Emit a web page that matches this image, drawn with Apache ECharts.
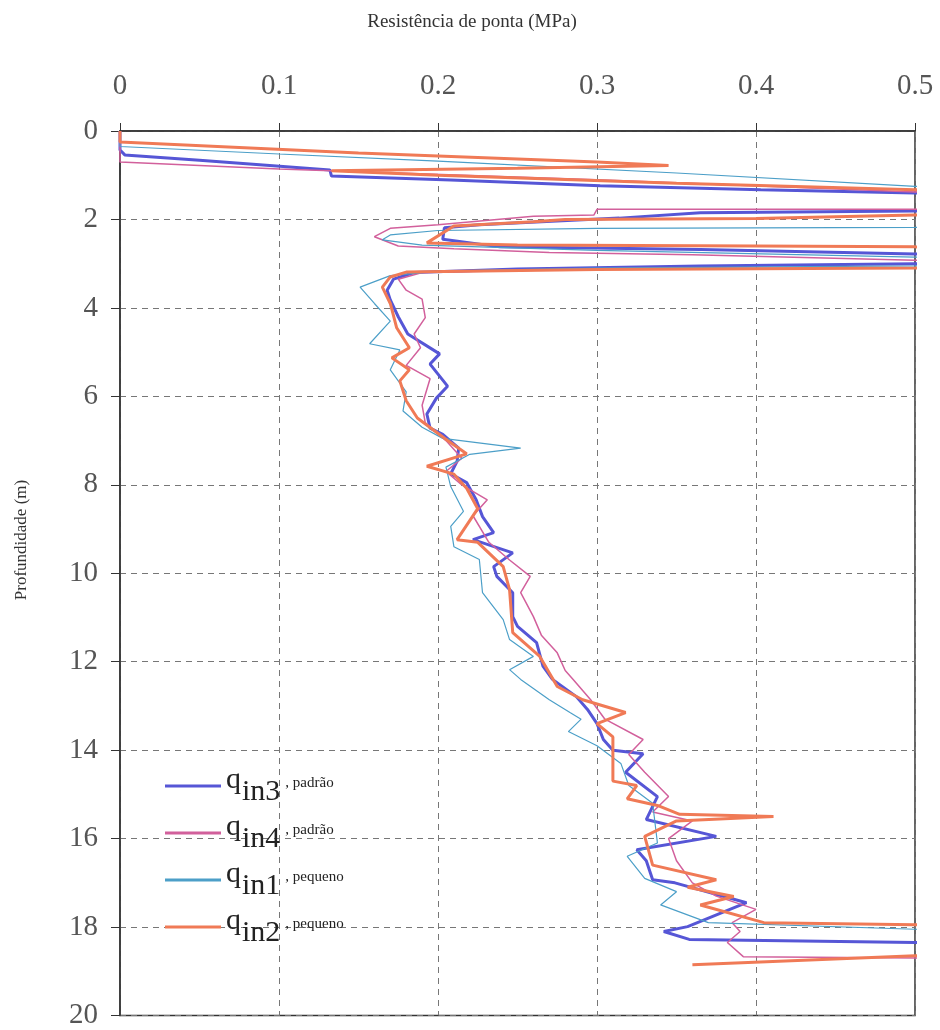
<!DOCTYPE html>
<html>
<head>
<meta charset="utf-8">
<script src="https://cdn.jsdelivr.net/npm/echarts@6/dist/echarts.min.js"></script>
<style>
  html, body { margin: 0; padding: 0; background: #fff; }
  #chart { width: 940px; height: 1030px; }
</style>
</head>
<body>
<div id="chart"></div>
<script>
  // [resistencia (MPa), profundidade (m)]
  const qin3 = [[0,0],[0,0.43],[0.003,0.54],[0.05,0.66],[0.132,0.88],[0.133,1.02],[0.208,1.11],[0.302,1.24],[0.403,1.33],[0.5,1.4],[0.56,1.45],
    [0.56,1.78],[0.5,1.81],[0.365,1.85],[0.314,1.97],[0.226,2.12],[0.204,2.19],[0.203,2.45],[0.239,2.62],[0.365,2.68],[0.5,2.78],[0.56,2.8],
    [0.56,2.98],[0.5,3.0],[0.365,3.05],[0.25,3.12],[0.185,3.2],[0.172,3.35],[0.168,3.6],[0.17,3.82],[0.175,4.2],[0.181,4.59],[0.201,5.04],
    [0.195,5.27],[0.206,5.77],[0.199,6.04],[0.193,6.4],[0.195,6.72],[0.203,6.86],[0.213,7.17],[0.212,7.47],[0.208,7.75],[0.218,7.95],
    [0.224,8.34],[0.228,8.72],[0.235,9.08],[0.222,9.24],[0.247,9.54],[0.235,9.85],[0.237,10.07],[0.247,10.44],[0.247,10.98],[0.25,11.2],
    [0.262,11.57],[0.266,12.1],[0.272,12.4],[0.287,12.79],[0.294,13.08],[0.3,13.4],[0.304,13.76],[0.31,14.0],[0.329,14.08],[0.318,14.5],
    [0.338,15.05],[0.331,15.57],[0.375,15.95],[0.325,16.25],[0.331,16.5],[0.335,16.93],[0.349,17.0],[0.394,17.45],[0.357,17.99],
    [0.342,18.1],[0.358,18.28],[0.5,18.35],[0.56,18.36]];
  const qin4 = [[0,0],[0,0.7],[0.1,0.86],[0.3,1.1],[0.5,1.38],[0.56,1.45],
    [0.56,1.75],[0.5,1.77],[0.3,1.77],[0.298,1.9],[0.26,1.93],[0.2,2.12],[0.17,2.2],[0.16,2.39],[0.175,2.6],[0.21,2.66],[0.27,2.75],
    [0.36,2.8],[0.5,2.92],[0.56,2.95],
    [0.56,3.08],[0.5,3.1],[0.3,3.12],[0.19,3.2],[0.175,3.35],[0.18,3.6],[0.19,3.8],[0.192,4.22],[0.185,4.59],[0.189,4.9],[0.18,5.3],
    [0.195,5.6],[0.19,6.2],[0.192,6.6],[0.205,7.0],[0.215,7.4],[0.205,7.7],[0.215,8.0],[0.231,8.34],[0.222,8.7],[0.232,9.3],[0.245,9.7],
    [0.258,10.07],[0.252,10.44],[0.26,10.98],[0.265,11.4],[0.275,11.8],[0.28,12.2],[0.285,12.4],[0.296,12.86],[0.305,13.3],[0.329,13.76],
    [0.32,14.1],[0.33,14.5],[0.345,15.05],[0.335,15.4],[0.36,15.6],[0.345,16.0],[0.35,16.5],[0.36,17.0],[0.375,17.3],[0.4,17.6],
    [0.385,17.9],[0.39,18.1],[0.382,18.35],[0.392,18.67],[0.5,18.7],[0.56,18.7]];
  const qin1 = [[0,0],[0,0.35],[0.1,0.52],[0.2,0.68],[0.35,0.95],[0.5,1.25],[0.56,1.3],
    [0.56,2.15],[0.5,2.18],[0.3,2.2],[0.2,2.25],[0.17,2.35],[0.165,2.46],[0.19,2.58],[0.3,2.7],[0.5,2.85],[0.56,2.88],
    [0.56,3.02],[0.5,3.05],[0.3,3.1],[0.2,3.17],[0.17,3.27],[0.151,3.53],[0.16,3.9],[0.17,4.3],[0.157,4.81],[0.176,4.95],[0.17,5.4],
    [0.18,5.9],[0.178,6.33],[0.19,6.7],[0.203,6.95],[0.252,7.17],[0.22,7.31],[0.205,7.6],[0.208,8.04],[0.216,8.6],[0.208,8.94],
    [0.21,9.4],[0.226,9.69],[0.228,10.44],[0.241,11.05],[0.245,11.5],[0.26,11.88],[0.245,12.18],[0.252,12.4],[0.27,12.86],
    [0.283,13.15],[0.29,13.3],[0.282,13.58],[0.3,13.9],[0.315,14.3],[0.32,14.8],[0.335,15.2],[0.338,16.1],[0.319,16.4],[0.33,16.9],
    [0.35,17.2],[0.34,17.5],[0.37,17.9],[0.5,18.05],[0.56,18.05]];
  const qin2 = [[0,0],[0,0.25],[0.15,0.5],[0.3,0.7],[0.345,0.78],[0.25,0.84],[0.133,0.9],[0.2,1.0],[0.35,1.18],[0.5,1.33],[0.56,1.38],
    [0.56,1.85],[0.5,1.9],[0.4,1.98],[0.28,2.0],[0.26,2.05],[0.21,2.15],[0.193,2.53],[0.25,2.58],[0.4,2.6],[0.5,2.62],[0.56,2.63],
    [0.56,3.08],[0.5,3.1],[0.3,3.13],[0.18,3.19],[0.17,3.3],[0.165,3.53],[0.17,3.9],[0.174,4.45],[0.182,4.9],[0.171,5.13],[0.182,5.4],
    [0.176,5.65],[0.18,6.1],[0.187,6.49],[0.206,7.0],[0.218,7.3],[0.193,7.58],[0.21,7.76],[0.218,8.08],[0.225,8.54],[0.212,9.24],
    [0.225,9.3],[0.241,9.85],[0.245,10.37],[0.247,11.34],[0.264,11.88],[0.275,12.56],[0.291,12.86],[0.318,13.15],[0.3,13.4],[0.31,13.7],
    [0.31,14.7],[0.325,14.8],[0.319,15.1],[0.338,15.25],[0.352,15.45],[0.411,15.5],[0.35,15.6],[0.33,15.95],[0.335,16.6],[0.375,16.93],
    [0.357,17.1],[0.386,17.31],[0.365,17.5],[0.405,17.9],[0.5,17.95],[0.56,17.96],[0.56,18.6],[0.5,18.65],[0.36,18.85]];

  const seriesSubs = ['in3', 'in4', 'in1', 'in2'];
  const seriesTags = ['padrão', 'padrão', 'pequeno', 'pequeno'];
  const seriesData = [qin3, qin4, qin1, qin2];
  const seriesColors = ['#5656d6', '#d2609c', '#4c9fc8', '#f07a56'];
  const seriesWidths = [3, 1.5, 1.2, 3];

  const serif = 'Liberation Serif';
  const myChart = echarts.init(document.getElementById('chart'));

  const option = {
    animation: false,
    grid: {
      left: 120, right: 25, top: 131, bottom: 14,
      show: true, borderColor: '#333', borderWidth: 1.5
    },
    legend: {
      orient: 'vertical',
      left: 160, top: 760,
      icon: 'rect',
      itemWidth: 56, itemHeight: 3, itemGap: 5,
      data: seriesSubs,
      formatter: function (name) {
        const i = seriesSubs.indexOf(name);
        return '{q|q}{s|' + name + '}{t|, ' + seriesTags[i] + '}';
      },
      textStyle: {
        color: '#222',
        rich: {
          q: { fontFamily: serif, fontSize: 30, color: '#222', verticalAlign: 'top', padding: [0, 1, 0, 0] },
          s: { fontFamily: serif, fontSize: 30, color: '#222', verticalAlign: 'top', padding: [12, 0, 0, 0] },
          t: { fontFamily: serif, fontSize: 15, color: '#222', verticalAlign: 'top', padding: [11, 0, 0, 5] }
        }
      }
    },
    xAxis: {
      type: 'value', position: 'top',
      min: 0, max: 0.5, interval: 0.1,
      axisLine: { show: true, lineStyle: { color: '#333', width: 1.5 } },
      axisTick: { show: true, length: 8, lineStyle: { color: '#333' } },
      axisLabel: { margin: 30, fontFamily: serif, fontSize: 29, color: '#555' },
      splitLine: { show: true, lineStyle: { type: [6, 5], color: '#777', width: 1 } }
    },
    yAxis: {
      type: 'value', inverse: true,
      min: 0, max: 20, interval: 2,
      axisLine: { show: true, lineStyle: { color: '#333', width: 1.5 } },
      axisTick: { show: true, length: 9, lineStyle: { color: '#333' } },
      axisLabel: { margin: 22, fontFamily: serif, fontSize: 29, color: '#555' },
      splitLine: { show: true, lineStyle: { type: [6, 5], color: '#777', width: 1 } }
    },
    graphic: [
      { type: 'text', x: 472, y: 22,
        style: { text: 'Resistência de ponta (MPa)', textAlign: 'center', textVerticalAlign: 'middle',
                 fontFamily: serif, fontSize: 19, fill: '#333' } },
      { type: 'text', x: 22, y: 540, rotation: Math.PI / 2,
        style: { text: 'Profundidade (m)', textAlign: 'center', textVerticalAlign: 'middle',
                 fontFamily: serif, fontSize: 17, fill: '#333' } }
    ],
    series: seriesSubs.map((name, i) => ({
      name: name,
      type: 'line',
      data: seriesData[i],
      symbol: 'none',
      clip: true,
      color: seriesColors[i],
      lineStyle: { color: seriesColors[i], width: seriesWidths[i] }
    }))
  };
  myChart.setOption(option);
</script>
</body>
</html>
